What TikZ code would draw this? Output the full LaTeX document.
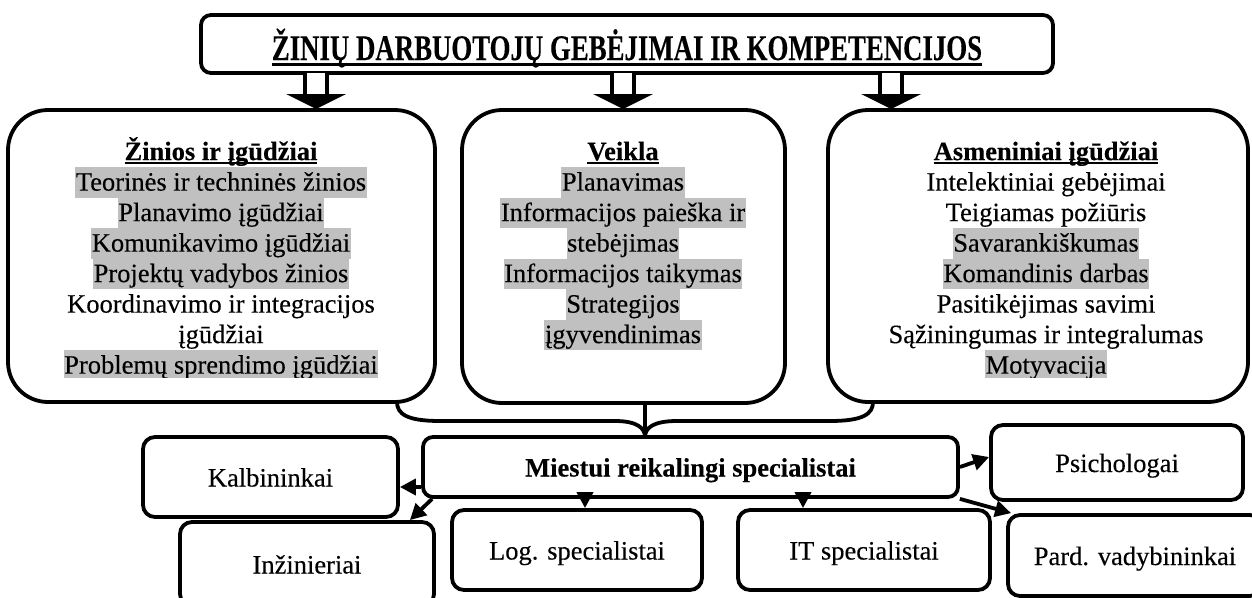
\documentclass[tikz,border=0pt]{standalone}
\usepackage{fontspec}
\setmainfont{Liberation Serif}[FakeBold=0.25]
\usetikzlibrary{arrows.meta}
\definecolor{hlgray}{HTML}{C0C0C0}
\newcommand\bodyfont{\fontsize{26.5}{30.5}\selectfont}
\newcommand\ulx[3]{\setbox0\hbox{#3}\rlap{\rule[-#1]{\wd0}{#2}}\box0}
\begin{document}
\begin{tikzpicture}[x=1pt,y=-1pt,
  box/.style={draw, line width=3.8pt, inner sep=0pt},
  bigbox/.style={box, rounded corners=40pt},
  smallbox/.style={box, rounded corners=12pt, font=\bodyfont, text height=19pt, text depth=0pt},
  ln/.style={anchor=base, inner xsep=0.5pt, inner ysep=0pt, text height=23.6pt, text depth=6.9pt, font=\bodyfont},
  hl/.style={ln, fill=hlgray},
  hd/.style={ln, font=\bodyfont\bfseries},
  arr/.style={line width=3.8pt, -{Triangle[length=16pt,width=16pt]}},
  shaft/.style={draw, fill=white, line width=3.6pt},
  head/.style={fill=black},
  brace/.style={line width=3.8pt}]
\fill[white] (0,0) rectangle (1252,597);
\clip (0,0) rectangle (1252,597);
% top box
\node[box, rounded corners=10pt, minimum width=852pt, minimum height=58pt] (top) at (627,44) {};
\node[anchor=base, inner sep=0pt] (title) at (627,60) {\fontsize{36}{40}\selectfont\bfseries\scalebox{0.745}[1]{\ulx{6pt}{3pt}{ŽINIŲ DARBUOTOJŲ GEBĖJIMAI IR KOMPETENCIJOS}}};
% big boxes
\node[bigbox, minimum width=427pt, minimum height=292pt] (zin) at (221.5,256) {};
\node[bigbox, minimum width=323pt, minimum height=293pt] (vei) at (623.5,256.5) {};
\node[bigbox, minimum width=420pt, minimum height=292pt] (asm) at (1038,256) {};
% block arrows
\coordinate (a1) at (316,73);
\coordinate (a2) at (623,73);
\coordinate (a3) at (891,73);
\foreach \a in {a1,a2,a3}{
  \draw[shaft] (\a) ++(-11,0) -- ++(0,23) -- ++(22,0) -- ++(0,-23);
  \fill[head] (\a) ++(-30,21) -- ++(60,0) -- ++(-30,15) -- cycle;
}
% text of big boxes
\begin{scope}
\clip (0,100) rectangle (1252,377);
\node[hd] (zh) at (221,160.1) {\ulx{4pt}{2.2pt}{Žinios ir įgūdžiai}};
\node[hl] (z1) at (221,190.6) {Teorinės ir techninės žinios};
\node[hl] (z2) at (221,221.1) {Planavimo įgūdžiai};
\node[hl] (z3) at (221,251.6) {Komunikavimo įgūdžiai};
\node[hl] (z4) at (221,282.1) {Projektų vadybos žinios};
\node[ln] (z5) at (221,312.6) {Koordinavimo ir integracijos};
\node[ln] (z6) at (221,343.1) {įgūdžiai};
\node[hl] (z7) at (221,373.6) {Problemų sprendimo įgūdžiai};
\node[hd] (vh) at (623,160.1) {\ulx{4pt}{2.2pt}{Veikla}};
\node[hl] (v1) at (623,190.6) {Planavimas};
\node[hl] (v2) at (623,221.1) {Informacijos paieška ir};
\node[hl] (v3) at (623,251.6) {stebėjimas};
\node[hl] (v4) at (623,282.1) {Informacijos taikymas};
\node[hl] (v5) at (623,312.6) {Strategijos};
\node[hl] (v6) at (623,343.1) {įgyvendinimas};
\node[hd] (ah) at (1046,160.1) {\ulx{4pt}{2.2pt}{Asmeniniai įgūdžiai}};
\node[ln] (s1) at (1046,190.6) {Intelektiniai gebėjimai};
\node[ln] (s2) at (1046,221.1) {Teigiamas požiūris};
\node[hl] (s3) at (1046,251.6) {Savarankiškumas};
\node[hl] (s4) at (1046,282.1) {Komandinis darbas};
\node[ln] (s5) at (1046,312.6) {Pasitikėjimas savimi};
\node[ln] (s6) at (1046,343.1) {Sąžiningumas ir integralumas};
\node[hl] (s7) at (1046,373.6) {Motyvacija};
\end{scope}
% bottom boxes
\node[smallbox, minimum width=535pt, minimum height=60pt, rounded corners=10pt] (mi) at (690.5,467) {\bfseries Miestui reikalingi specialistai};
\node[smallbox, minimum width=255pt, minimum height=80pt] (kal) at (270.5,477) {Kalbininkai};
\node[smallbox, minimum width=254pt, minimum height=84pt] (inz) at (307,564) {Inžinieriai};
\node[smallbox, minimum width=250pt, minimum height=80pt] (log) at (577,550) {Log. specialistai};
\node[smallbox, minimum width=252pt, minimum height=80pt] (it) at (864,550) {IT specialistai};
\node[smallbox, minimum width=252pt, minimum height=75pt] (psy) at (1117,462.5) {Psichologai};
\node[smallbox, minimum width=254pt, minimum height=81pt] (pard) at (1135,555.5) {Pard. vadybininkai};
% brace
\coordinate (tip) at (645,437);
\draw[brace] (tip) -- (vei.south -| tip);
\draw[brace] (397,402) .. controls (397,414) and (407,421) .. (440,421) -- (615,421) .. controls (637,421) and (645,428) .. (tip);
\draw[brace] (873,402) .. controls (873,414) and (863,421) .. (830,421) -- (677,421) .. controls (653,421) and (645,428) .. (tip);
% arrows
\draw[arr] (mi.west |- 0,487) -- (kal.east |- 0,487);
\draw[arr] ([xshift=11pt]mi.south west) -- ([xshift=-26pt]inz.north east);
\draw[arr] (mi.south -| 585,0) -- (log.north -| 585,0);
\draw[arr] (mi.south -| 803,0) -- (it.north -| 803,0);
\draw[arr] (mi.east |- 0,467) -- (psy.west |- 0,457);
\draw[arr] (mi.south east) -- ([xshift=5pt]pard.north west);
\end{tikzpicture}
\end{document}
